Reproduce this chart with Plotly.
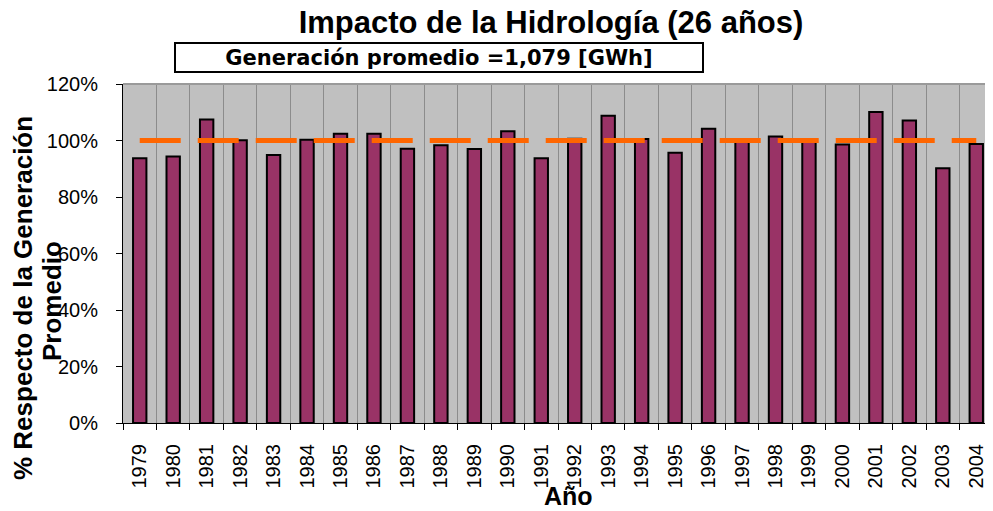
import plotly.graph_objects as go

years = [str(y) for y in range(1979, 2005)]
pct_values = [93.7, 94.3, 107.4, 100.1, 94.9, 100.3, 102.4, 102.4, 97.1, 98.3,
              97.0, 103.3, 93.7, 100.6, 108.8, 100.5, 95.7, 104.2, 99.9, 101.4,
              99.8, 98.6, 110.1, 107.1, 90.2, 98.8]
promedio = [100.0] * len(years)
y_ticks = [0, 20, 40, 60, 80, 100, 120]
y_tick_labels = [f"{v}%" for v in y_ticks]

title_text = "Impacto de la Hidrología (26 años)"
box_text = "Generación promedio =1,079 [GWh]"
ytitle_1 = "% Respecto de la Generación"
ytitle_2 = "Promedio"
xtitle = "Año"

# page body has an 8px default margin; figure origin sits at (8, 8)
OFF = 8
W, H = 993 - OFF, 511 - OFF
L, T = 123 - OFF, 84 - OFF
B = H - (423 - OFF)
PW, PH = W - L, H - T - B


def px_x(x):
    return (x - OFF - L) / PW


def px_y(y):
    return (H - B - (y - OFF)) / PH


fig = go.Figure()
fig.add_trace(go.Bar(
    x=years, y=pct_values,
    marker=dict(color="#993366", line=dict(color="black", width=2)),
    showlegend=False,
))
fig.add_trace(go.Scatter(
    x=years, y=promedio, mode="lines",
    line=dict(color="#FF6600", width=5, dash="41px,17px"),
    showlegend=False,
))

ARIAL = "Liberation Sans, Arial, sans-serif"

fig.update_layout(
    width=W, height=H,
    margin=dict(l=L, r=0, t=T, b=B),
    paper_bgcolor="white",
    plot_bgcolor="#C0C0C0",
    bargap=0.6,
    title=dict(text=f"<b>{title_text}</b>", x=(551 - OFF) / W, xanchor="center",
               y=1 - (22 - OFF) / H, yanchor="middle",
               font=dict(family=ARIAL, size=31, color="black")),
    xaxis=dict(
        type="category", tickson="boundaries", showgrid=True,
        gridcolor="#8C8C8C", gridwidth=1,
        showline=True, linecolor="black", linewidth=1,
        ticks="outside", ticklen=6, tickcolor="black",
        tickangle=-90, tickfont=dict(family=ARIAL, size=20, color="black"),
        ticklabelstandoff=12,
    ),
    yaxis=dict(
        range=[0, 120], tickvals=y_ticks, ticktext=y_tick_labels,
        showgrid=False, zeroline=False,
        showline=True, linecolor="black", linewidth=1,
        ticks="outside", ticklen=6, tickcolor="black",
        tickfont=dict(family=ARIAL, size=20, color="black"),
        ticklabelstandoff=14,
    ),
)

fig.add_shape(type="line", xref="paper", yref="paper", x0=0, x1=1, y0=1, y1=1,
              line=dict(color="#9A9A9A", width=2))

fig.add_annotation(
    text=f"<b>{box_text}</b>", xref="paper", yref="paper",
    x=px_x(439), y=px_y(57), xanchor="center", yanchor="middle",
    showarrow=False, width=524, height=25, align="center",
    bordercolor="black", borderwidth=2, borderpad=1, bgcolor="white",
    font=dict(family="DejaVu Sans, Verdana, sans-serif", size=21, color="black"),
)

fig.add_annotation(
    text=f"<b>{ytitle_1}</b>", xref="paper", yref="paper",
    x=px_x(23), y=px_y(298), xanchor="center", yanchor="middle",
    textangle=-90, showarrow=False,
    font=dict(family=ARIAL, size=26, color="black"),
)
fig.add_annotation(
    text=f"<b>{ytitle_2}</b>", xref="paper", yref="paper",
    x=px_x(52), y=px_y(301), xanchor="center", yanchor="middle",
    textangle=-90, showarrow=False,
    font=dict(family=ARIAL, size=26, color="black"),
)
fig.add_annotation(
    text=f"<b>{xtitle}</b>", xref="paper", yref="paper",
    x=px_x(568), y=px_y(496), xanchor="center", yanchor="middle",
    showarrow=False,
    font=dict(family=ARIAL, size=25, color="black"),
)

fig.write_html("out.html")
